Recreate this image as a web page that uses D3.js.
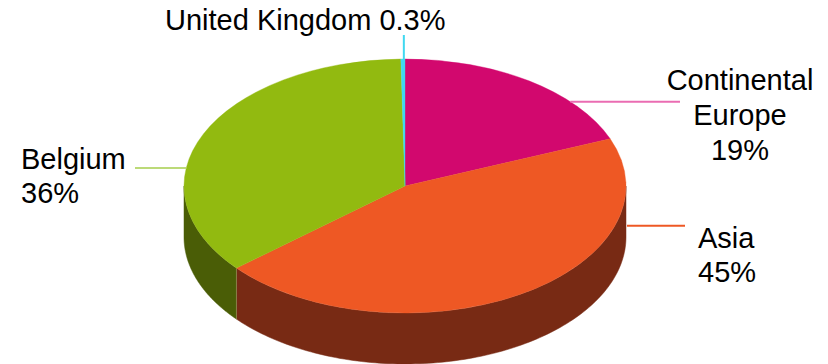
<!DOCTYPE html>
<html>
<head>
<meta charset="utf-8">
<script src="https://cdn.jsdelivr.net/npm/d3@7"></script>
<style>
  html, body { margin: 0; padding: 0; background: #ffffff; }
  svg text { font-family: "Liberation Sans", Arial, sans-serif; fill: #000; }
</style>
</head>
<body>
<svg id="chart" width="828" height="364"></svg>
<script>
// Share of revenue by region
const categories = ["Continental Europe", "Asia", "Belgium", "United Kingdom"];
const values = [19, 45, 36, 0.3];
const valueLabels = ["19%", "45%", "36%", "0.3%"];

// Colours: top face, side wall, leader line
const topColors = ["#D2086E", "#EE5824", "#92BA10", "#40D8F0"];
const sideColors = ["#8A0548", "#782A14", "#4A5D06", "#2A8FA0"];
const leaderColors = ["#EA6CB2", "#EE5824", "#BCDA78", "#40D8F0"];

// Pie geometry (elliptical top face with a visible wall)
const cx = 405, cy = 186, rx = 221, ry = 127, depth = 51;
const fontSize = 29;

const svg = d3.select("#chart");

const pie = d3.pie().sort(null).value(d => d.value);
const arcs = pie(categories.map((c, i) => ({ name: c, value: values[i], i })));

// projected point on the rim for pie angle a (0 = 12 o'clock, clockwise)
const rimX = a => cx + rx * Math.sin(a);
const rimY = a => cy - ry * Math.cos(a);

// Side walls: only the front half (angles between 90° and 270°) is visible
const wallG = svg.append("g");
const line = d3.line();
arcs.forEach(a => {
  const a0 = Math.max(a.startAngle, Math.PI / 2);
  const a1 = Math.min(a.endAngle, 3 * Math.PI / 2);
  if (a0 >= a1) return;
  const steps = d3.range(0, 121).map(k => a0 + (a1 - a0) * k / 120);
  const upper = steps.map(t => [rimX(t), rimY(t)]);
  const lower = steps.slice().reverse().map(t => [rimX(t), rimY(t) + depth]);
  wallG.append("path")
    .attr("d", line(upper.concat(lower)) + "Z")
    .attr("fill", sideColors[a.data.i])
    .attr("stroke", sideColors[a.data.i])
    .attr("stroke-width", 0.5);
});

// seam between the visible walls
arcs.forEach(a => {
  const t = a.endAngle;
  if (t > Math.PI / 2 && t < 3 * Math.PI / 2) {
    wallG.append("line")
      .attr("x1", rimX(t)).attr("y1", rimY(t))
      .attr("x2", rimX(t)).attr("y2", rimY(t) + depth)
      .attr("stroke", "#8C7F4A").attr("stroke-width", 1);
  }
});

// Top face: circular arcs squashed into an ellipse
const arcGen = d3.arc().innerRadius(0).outerRadius(rx);
svg.append("g")
  .attr("transform", `translate(${cx},${cy}) scale(1,${ry / rx})`)
  .selectAll("path")
  .data(arcs)
  .join("path")
  .attr("d", arcGen)
  .attr("fill", d => topColors[d.data.i])
  .attr("stroke", d => topColors[d.data.i])
  .attr("stroke-width", 0.5);

// Leader lines: horizontal ones start on the rim at the given height
const rimXAtY = (y, side) => cx + side * rx * Math.sqrt(Math.max(0, 1 - ((y - cy) / ry) ** 2));
const leaders = [
  { i: 0, x1: rimXAtY(101.7, 1), y1: 101.7, x2: 680, y2: 101.7 },
  { i: 1, x1: cx + rx + 1, y1: 225.7, x2: 685, y2: 225.7 },
  { i: 2, x1: rimXAtY(168, -1), y1: 168, x2: 135, y2: 168 },
  { i: 3, x1: rimX(arcs[3].startAngle + (arcs[3].endAngle - arcs[3].startAngle) * 0.6) + 0.5, y1: cy - ry, x2: null, y2: 35 }
];
leaders.forEach(l => {
  svg.append("line")
    .attr("x1", l.x1).attr("y1", l.y1)
    .attr("x2", l.x2 === null ? l.x1 : l.x2).attr("y2", l.y2)
    .attr("stroke", leaderColors[l.i]).attr("stroke-width", 2);
});

// Data labels
const labelLayout = [
  { i: 0, x: 740, y: 90, anchor: "middle", lines: ["Continental", "Europe", valueLabels[0]], lh: 35 },
  { i: 1, x: 698, y: 248, anchor: "start", lines: ["Asia", valueLabels[1]], lh: 34 },
  { i: 2, x: 21, y: 169, anchor: "start", lines: ["Belgium", valueLabels[2]], lh: 34 },
  { i: 3, x: 165, y: 30, anchor: "start", lines: [categories[3] + " " + valueLabels[3]], lh: 34 }
];
labelLayout.forEach(L => {
  const t = svg.append("text")
    .attr("x", L.x).attr("y", L.y)
    .attr("text-anchor", L.anchor)
    .attr("font-size", fontSize);
  L.lines.forEach((s, k) => {
    t.append("tspan").attr("x", L.x).attr("dy", k === 0 ? 0 : L.lh).text(s);
  });
});
</script>
</body>
</html>
